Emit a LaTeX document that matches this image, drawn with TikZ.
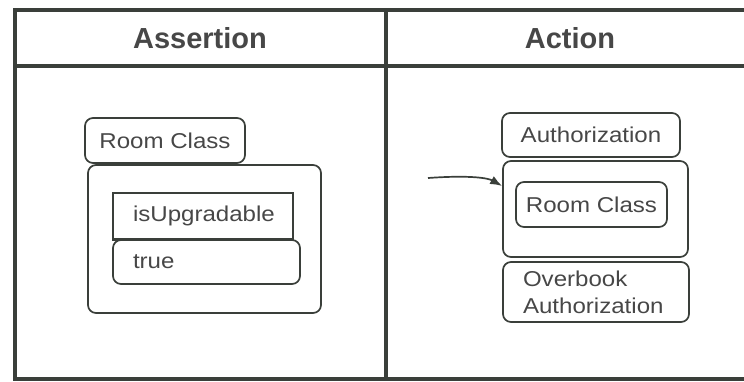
\documentclass[tikz,border=0pt]{standalone}
\usepackage{fontspec}
\setmainfont{Liberation Sans}
\newfontfamily\boxfont[FakeStretch=1.12]{Liberation Sans}
\usetikzlibrary{arrows.meta}
\definecolor{ink}{HTML}{3A3F3A}
\definecolor{txt}{HTML}{474747}
\begin{document}
\begin{tikzpicture}[x=1pt,y=-1pt,
  frame/.style={draw=ink, line width=3.2pt},
  box/.style={draw=ink, line width=1.7pt, rounded corners=8pt, inner sep=0pt,
    text=txt, font=\boxfont\fontsize{21.5}{27}\selectfont},
  sharpbox/.style={box, rounded corners=0pt},
  lbox/.style={inner xsep=20pt, align=left},
  head/.style={text=txt, font=\bfseries\fontsize{29}{34}\selectfont, anchor=base},
  link/.style={draw=ink, line width=1.7pt, -{Latex[length=12pt,width=9pt]}},
]
\useasboundingbox (0,0) rectangle (744,381);

% table frame
\draw[frame] (744,10) -- (15,10) -- (15,379) -- (744,379);
\draw[frame] (15,66) -- (744,66);
\draw[frame] (386,10) -- (386,379);

% column headings
\node[head] (hAssert) at (200,48) {Assertion};
\node[head] (hAction) at (570,48) {Action};

% assertion column
\node[box, minimum width=160pt, minimum height=45pt] (rcA) at (165,140.5) {Room Class};
\node[box, minimum width=233pt, minimum height=148pt] (contA) at (204.5,239) {};
\node[sharpbox, lbox, text width=140pt, minimum height=46pt] (isup) at (203,216) {isUpgradable};
\draw[ink, line width=3pt] (isup.south west) -- (isup.south east);
\node[box, lbox, text width=147pt, minimum height=44pt] (trueA) at (206.5,262) {true};

% action column
\node[box, minimum width=178pt, minimum height=44pt] (auth) at (591,135) {Authorization};
\node[box, minimum width=185pt, minimum height=96pt] (contB) at (595.5,209) {};
\node[box, minimum width=151pt, minimum height=45pt] (rcB) at (591.5,204.5) {Room Class};
\node[box, lbox, text width=146pt, minimum height=60pt] (obook) at (596,292) {Overbook\\Authorization};

% incoming link
\coordinate (src) at (428,178);
\draw[link] (src) .. controls (470,175) and (488,178) .. ([yshift=23pt]contB.west);
\end{tikzpicture}
\end{document}
